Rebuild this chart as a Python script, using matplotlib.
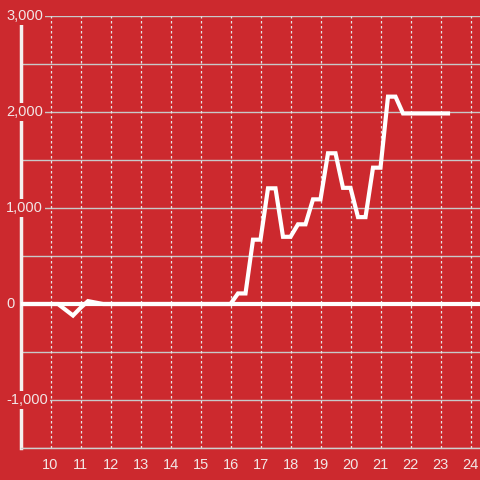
import numpy as np
import matplotlib
matplotlib.use('Agg')
import matplotlib.pyplot as plt
import matplotlib.transforms as mtransforms

plt.rcParams['font.family'] = ['Liberation Sans', 'DejaVu Sans']

# hours of the day, every 15 minutes
hours = np.arange(9.0, 23.26, 0.25)
values = [
    0, 0, 0, 0, 0, 0,                  # 9:00 - 10:15
    -60, -120, -40, 30, 15, 0,         # 10:30 - 11:45
    0, 0, 0, 0, 0, 0, 0, 0,            # 12:00 - 13:45
    0, 0, 0, 0, 0, 0, 0, 0,            # 14:00 - 15:45
    0, 110, 110, 670, 670, 1205, 1205, 700,   # 16:00 - 17:45
    700, 830, 830, 1090, 1090, 1570, 1570, 1210,  # 18:00 - 19:45
    1210, 905, 905, 1420, 1420, 2160, 2160, 1985,  # 20:00 - 21:45
    1985, 1985, 1985, 1985, 1985, 1985,  # 22:00 - 23:15
]
x_ticks = list(range(10, 25))
y_ticks = [-1000, 0, 1000, 2000, 3000]
y_labels = ['-1,000', '0', '1,000', '2,000', '3,000']

bg = '#cc292e'
W, H = 480, 480
fig = plt.figure(figsize=(4.8, 4.8), dpi=100, facecolor=bg)
ax = fig.add_axes([20.5 / W, 32 / H, (W - 20.5) / W, (448 - 16) / H])
ax.set_facecolor(bg)

ax.set_xlim(9, 9 + (W - 20.5) / 30.0)
ax.set_ylim(-1500, 3000)

# grid
for y in np.arange(-1500, 3001, 500):
    ax.axhline(y, color='#c8c8c8', lw=1, zorder=1)
for x in x_ticks:
    ax.axvline(x, color='#e6e6e6', lw=0.9, ls=(0, (2, 2)), zorder=1)

# zero line and data
ax.axhline(0, color='white', lw=3, zorder=3)
ax.plot(hours, values, color='white', lw=3, zorder=4, solid_joinstyle='miter')

for s in ['top', 'right']:
    ax.spines[s].set_visible(False)
ax.spines['left'].set_color('#f5f0f0')
ax.spines['left'].set_linewidth(2.5)
ax.spines['bottom'].set_color('#cfcfcf')
ax.spines['bottom'].set_linewidth(1)

ax.set_xticks(x_ticks)
ax.set_xticklabels([str(t) for t in x_ticks])
ax.tick_params(axis='x', length=0, pad=7, labelsize=10.5, labelcolor='#f2e6e6')
ax.set_yticks([])

# y labels drawn over the axis with a red box
trans = mtransforms.blended_transform_factory(fig.transFigure, ax.transData)
for v, lab in zip(y_ticks, y_labels):
    fig.text(6 / W, v, lab, transform=trans, ha='left', va='center',
             fontsize=10.5, color='#f2e6e6',
             bbox=dict(facecolor=bg, edgecolor='none', pad=1.5))

fig.savefig('out.png', dpi=100, facecolor=bg)
